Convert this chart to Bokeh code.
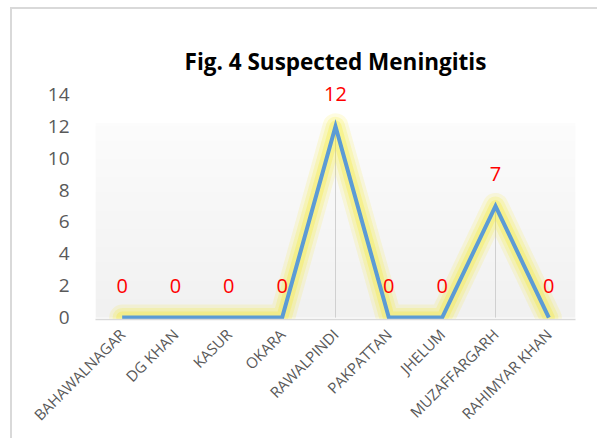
import numpy as np
from bokeh.plotting import figure
from bokeh.models import ColumnDataSource, LabelSet, Range1d, FactorRange, FixedTicker
from bokeh.core.properties import value
from bokeh.embed import file_html
from bokeh.resources import INLINE
from math import pi

# ---- data ----
districts = ["BAHAWALNAGAR", "DG KHAN", "KASUR", "OKARA", "RAWALPINDI",
             "PAKPATTAN", "JHELUM", "MUZAFFARGARH", "RAHIMYAR KHAN"]
cases = [0, 0, 0, 0, 12, 0, 0, 7, 0]
y_ticks = [0, 2, 4, 6, 8, 10, 12, 14]
title_text = "Fig. 4 Suspected Meningitis"

FONT = "Open Sans"

src = ColumnDataSource(dict(x=districts, y=cases, zero=[0] * len(cases),
                            lab=[str(v) for v in cases]))

p = figure(x_range=FactorRange(*districts), y_range=Range1d(-0.12, 15.13),
           width=587, height=431, output_backend="svg", toolbar_location=None,
           min_border_left=83, min_border_right=24, min_border_top=67,
           min_border_bottom=121, title=title_text)

p.styles = {"margin-top": "7px", "margin-left": "10px",
            "border-top": "2px solid #d9d9d9", "border-left": "2px solid #d9d9d9"}

p.title.text_font = FONT
p.title.text_font_size = "22.5px"
p.title.text_font_style = "bold"
p.title.text_color = "#000000"
p.title.align = "center"
p.title.standoff = 0

p.outline_line_color = None
p.background_fill_color = "white"
p.border_fill_color = "white"
p.xgrid.grid_line_color = None
p.ygrid.grid_line_color = None

# soft gradient backdrop of the plot area (white at top to light grey at bottom)
n = 64
shade = np.linspace(0xF1, 0xFC, n)
img = np.zeros((n, 1), dtype=np.uint32)
view = img.view(dtype=np.uint8).reshape((n, 1, 4))
view[:, 0, 0] = shade.astype(np.uint8)
view[:, 0, 1] = shade.astype(np.uint8)
view[:, 0, 2] = shade.astype(np.uint8)
view[:, 0, 3] = 255
p.image_rgba(image=[img], x=0, y=0, dw=len(districts), dh=12.2)

# drop lines
p.segment(x0="x", y0="zero", x1="x", y1="y", source=src,
          line_color="#d0d0d0", line_width=1)

# glow
for w, a in [(26, 0.12), (19, 0.16), (12, 0.22)]:
    p.line("x", "y", source=src, line_color="#f5ea00", line_width=w,
           line_alpha=a, line_join="round", line_cap="round")

# main line
p.line("x", "y", source=src, line_color="#5b9bd5", line_width=4,
       line_join="miter")

labels = LabelSet(x="x", y="y", text="lab", source=src, y_offset=32,
                  text_align="center", text_baseline="middle",
                  text_color="#ff0000", text_font_size="20px",
                  text_font=value(FONT))
p.add_layout(labels)

# axes
p.yaxis.ticker = FixedTicker(ticks=y_ticks)
p.yaxis.axis_line_color = None
p.yaxis.major_tick_line_color = None
p.yaxis.minor_tick_line_color = None
p.yaxis.major_label_text_font = FONT
p.yaxis.major_label_text_font_size = "19px"
p.yaxis.major_label_text_color = "#595959"
p.yaxis.major_label_standoff = 20

p.xaxis.axis_line_color = "#d9d9d9"
p.xaxis.axis_line_width = 1.5
p.xaxis.major_tick_line_color = None
p.xaxis.minor_tick_line_color = None
p.xaxis.major_label_orientation = pi / 4
p.xaxis.major_label_text_font = FONT
p.xaxis.major_label_text_font_size = "15px"
p.xaxis.major_label_text_color = "#595959"
p.xaxis.major_label_standoff = 6

open("out.html", "w").write(file_html(p, INLINE))
